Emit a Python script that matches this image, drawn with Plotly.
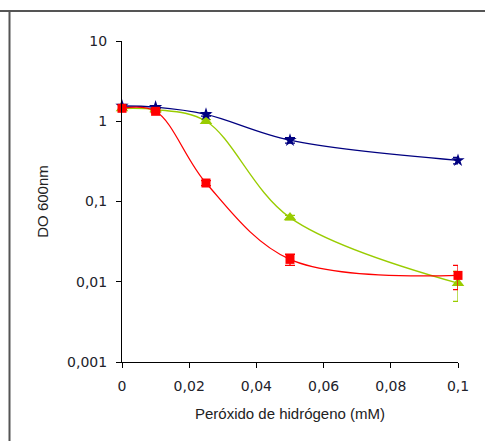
import plotly.graph_objects as go

# Hydrogen peroxide concentration (mM)
peroxide = [0, 0.01, 0.025, 0.05, 0.1]

# OD600 for each strain, with standard deviations
od_blue = [1.55, 1.5, 1.22, 0.58, 0.325]
sd_blue = [0.05, 0.05, 0.06, 0.045, 0.03]

od_red = [1.45, 1.33, 0.17, 0.019, 0.012]
sd_red = [0.05, 0.05, 0.012, 0.003, 0.004]

od_green = [1.44, 1.4, 1.0, 0.063, 0.0096]
sd_green = [0.05, 0.05, 0.05, 0.004, 0.0039]

x_tickvals = [0, 0.02, 0.04, 0.06, 0.08, 0.1]
x_ticktext = ["0", "0,02", "0,04", "0,06", "0,08", "0,1"]
y_tickvals = [0.001, 0.01, 0.1, 1, 10]
y_ticktext = ["0,001", "0,01", "0,1", "1", "10"]

series = [
    (od_green, sd_green, "#99cc00", "triangle-up", 11),
    (od_blue, sd_blue, "#000080", "star", 10),
    (od_red, sd_red, "#ff0000", "square", 9),
]

fig = go.Figure()
for y, sd, col, symbol, size in series:
    fig.add_trace(go.Scatter(
        x=peroxide, y=y,
        mode="lines+markers",
        line=dict(color=col, width=1.3, shape="spline", smoothing=1),
        marker=dict(symbol=symbol, size=size, color=col, line=dict(width=0)),
        error_y=dict(type="data", array=sd, visible=True,
                     color=col, thickness=1.3, width=5),
        cliponaxis=False,
        showlegend=False,
    ))

tick_font = dict(family="DejaVu Sans", size=14, color="#22222a")
title_font = dict(family="Liberation Sans", size=15, color="#222222")

fig.update_layout(
    width=485, height=441,
    margin=dict(l=122, r=27, t=41, b=79),
    paper_bgcolor="white", plot_bgcolor="white",
    xaxis=dict(
        range=[0, 0.1], tickvals=x_tickvals, ticktext=x_ticktext,
        showgrid=False, zeroline=False,
        showline=True, linecolor="black", linewidth=1,
        ticks="outside", ticklen=5, tickcolor="black",
        ticklabelstandoff=6,
        tickfont=tick_font,
        title=dict(text="Peróxido de hidrógeno (mM)", font=title_font,
                   standoff=15),
    ),
    yaxis=dict(
        type="log", range=[-3, 1],
        tickvals=y_tickvals, ticktext=y_ticktext,
        showgrid=False, zeroline=False,
        showline=True, linecolor="black", linewidth=1,
        ticks="outside", ticklen=5, tickcolor="black",
        ticklabelstandoff=6,
        tickfont=tick_font,
        title=dict(text="DO 600nm", font=title_font, standoff=14),
    ),
    shapes=[
        # outer frame edges (top and left)
        dict(type="line", xref="paper", yref="paper",
             x0=-122 / 336, x1=1 + 27 / 336, y0=1 + 30 / 321, y1=1 + 30 / 321,
             line=dict(color="#555555", width=2)),
        dict(type="line", xref="paper", yref="paper",
             x0=-112.5 / 336, x1=-112.5 / 336, y0=-79 / 321, y1=1 + 30 / 321,
             line=dict(color="#555555", width=2)),
    ],
)

fig.write_html("out.html")
